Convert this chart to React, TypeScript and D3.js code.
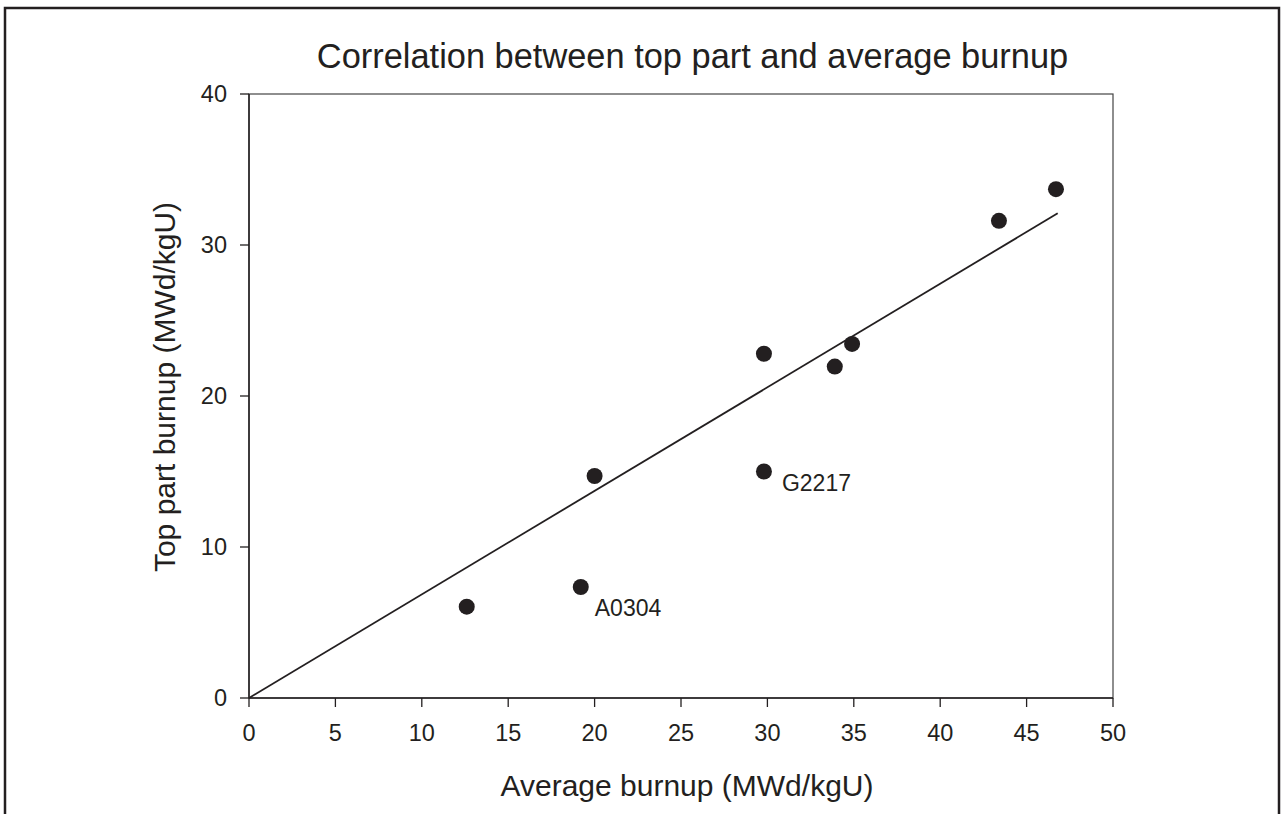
import React from "react";
import * as d3 from "d3";

const avgBurnup = [12.6, 19.2, 20.0, 29.8, 29.8, 33.9, 34.9, 43.4, 46.7];
const topBurnup = [6.05, 7.35, 14.7, 15.0, 22.8, 21.95, 23.45, 31.6, 33.7];
const pointLabels = ["", "A0304", "", "G2217", "", "", "", "", ""];
const fitX = [0, 46.8];
const fitY = [0, 32.1];
const xTicks = [0, 5, 10, 15, 20, 25, 30, 35, 40, 45, 50];
const yTicks = [0, 10, 20, 30, 40];

const titleText = "Correlation between top part and average burnup";
const xLabelText = "Average burnup (MWd/kgU)";
const yLabelText = "Top part burnup (MWd/kgU)";

const W = 1282;
const H = 814;
const M = { left: 249, right: 1113, top: 94, bottom: 698 };
const INK = "#231f20";
const FONT = "'Liberation Sans', Arial, Helvetica, sans-serif";
const labelOffsets: Record<string, [number, number]> = {
  A0304: [14, 29],
  G2217: [18, 19],
};

export default function App() {
  const x = d3.scaleLinear().domain([0, 50]).range([M.left, M.right]);
  const y = d3.scaleLinear().domain([0, 40]).range([M.bottom, M.top]);
  const line = d3
    .line<number>()
    .x((_, i) => x(fitX[i]))
    .y((d) => y(d));

  return (
    <svg
      width={W}
      height={H}
      style={{ position: "absolute", left: 0, top: 0, background: "#fff" }}
      fontFamily={FONT}
    >
      <rect x={0} y={0} width={W} height={H} fill="#fff" />
      {/* outer frame */}
      <rect x={5} y={8} width={1274} height={830} fill="none" stroke={INK} strokeWidth={2.5} />

      {/* title */}
      <text x={692.5} y={68} textAnchor="middle" fontSize={34.4} fill={INK}>
        {titleText}
      </text>

      {/* plot frame */}
      <rect
        x={M.left}
        y={M.top}
        width={M.right - M.left}
        height={M.bottom - M.top}
        fill="none"
        stroke="#444"
        strokeWidth={1.2}
      />
      <line x1={M.left} x2={M.left} y1={M.top} y2={M.bottom} stroke={INK} strokeWidth={1.5} />
      <line x1={M.left} x2={M.right} y1={M.bottom} y2={M.bottom} stroke={INK} strokeWidth={1.5} />

      {/* x ticks */}
      {xTicks.map((t) => (
        <g key={"x" + t}>
          <line x1={x(t)} x2={x(t)} y1={M.bottom} y2={M.bottom + 9} stroke={INK} strokeWidth={1.3} />
          <text x={x(t)} y={M.bottom + 43} textAnchor="middle" fontSize={23.5} fill={INK}>
            {t}
          </text>
        </g>
      ))}
      {/* y ticks */}
      {yTicks.map((t) => (
        <g key={"y" + t}>
          <line x1={M.left - 9} x2={M.left} y1={y(t)} y2={y(t)} stroke={INK} strokeWidth={1.3} />
          <text x={M.left - 22} y={y(t) + 8} textAnchor="end" fontSize={23.5} fill={INK}>
            {t}
          </text>
        </g>
      ))}

      {/* axis labels */}
      <text x={687} y={796} textAnchor="middle" fontSize={30} fill={INK}>
        {xLabelText}
      </text>
      <text
        transform={`translate(175, 387) rotate(-90)`}
        textAnchor="middle"
        fontSize={30}
        fill={INK}
      >
        {yLabelText}
      </text>

      {/* fit line */}
      <path d={line(fitY) || ""} fill="none" stroke={INK} strokeWidth={1.8} />

      {/* points */}
      {avgBurnup.map((v, i) => (
        <circle key={"p" + i} cx={x(v)} cy={y(topBurnup[i])} r={8} fill={INK} />
      ))}
      {pointLabels.map((lab, i) =>
        lab ? (
          <text
            key={"l" + i}
            x={x(avgBurnup[i]) + labelOffsets[lab][0]}
            y={y(topBurnup[i]) + labelOffsets[lab][1]}
            fontSize={23}
            fill={INK}
          >
            {lab}
          </text>
        ) : null
      )}
    </svg>
  );
}
